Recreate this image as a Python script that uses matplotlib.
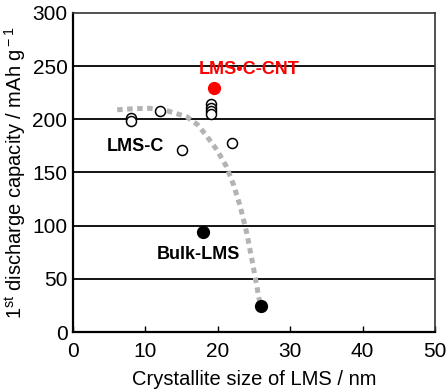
import matplotlib
matplotlib.use("Agg")
import matplotlib.pyplot as plt

plt.rcParams['font.family'] = ['Liberation Sans', 'DejaVu Sans']
plt.rcParams['mathtext.fontset'] = 'custom'
plt.rcParams['mathtext.rm'] = 'Liberation Sans'
plt.rcParams['mathtext.it'] = 'Liberation Sans:italic'

# Data
lmsc_x = [8, 8, 12, 15, 19, 19, 19, 19, 22]
lmsc_y = [201, 198, 208, 171, 214, 211, 208, 205, 178]
cnt_x = [19.5]
cnt_y = [229]
bulk_x = [18, 26]
bulk_y = [94, 24]
curve_x = [6.1, 8.5, 10.6, 13, 15.7, 17.2, 18.5, 19.9, 21.2, 22.2, 23.1, 24.0, 24.9, 25.6, 25.9]
curve_y = [209, 210, 210.4, 208, 202.5, 195, 184, 171, 155.5, 138, 118, 93, 61.4, 35, 24]

xticks = [0, 10, 20, 30, 40, 50]
yticks = [0, 50, 100, 150, 200, 250, 300]

fig = plt.figure(figsize=(4.47, 3.92), dpi=100)
ax = fig.add_axes([73/447, 1 - 332/392, (435-73)/447, (332-13)/392])

for yv in yticks[1:-1]:
    ax.axhline(yv, color='black', lw=1.3, zorder=1)

ax.plot(curve_x, curve_y, color='#b3b3b3', lw=3.6, linestyle=(0, (1.1, 0.9)),
        dash_capstyle='butt', zorder=2)

ax.plot(lmsc_x, lmsc_y, 'o', mfc='white', mec='black', mew=1.1, ms=7.2, zorder=3, linestyle='none')
ax.plot(cnt_x, cnt_y, 'o', color='#ff0000', ms=8.5, zorder=4, linestyle='none')
ax.plot(bulk_x, bulk_y, 'o', color='black', ms=8.5, zorder=4, linestyle='none')

ax.text(8.6, 174, 'LMS-C', fontsize=13, fontweight='bold', ha='center', va='center')
ax.text(17.3, 73, 'Bulk-LMS', fontsize=13, fontweight='bold', ha='center', va='center')
ax.text(24.3, 247, 'LMS\u2022C-CNT', fontsize=13, fontweight='bold', ha='center', va='center',
        color='#ff0000')

ax.set_xlim(0, 50)
ax.set_ylim(0, 300)
ax.set_xticks(xticks)
ax.set_yticks(yticks)
ax.tick_params(axis='x', direction='in', length=4, width=1, labelsize=15, pad=7)
ax.tick_params(axis='y', length=0, labelsize=15, pad=4)

for side in ['left', 'bottom']:
    ax.spines[side].set_linewidth(1.6)
for side in ['top', 'right']:
    ax.spines[side].set_linewidth(1.2)
    ax.spines[side].set_color('#333333')

ax.set_xlabel('Crystallite size of LMS / nm', fontsize=14.5, labelpad=7)
ax.set_ylabel('1$^{\\rm st}$ discharge capacity / mAh g$^{\\rm -1}$', fontsize=14.5, labelpad=3)

fig.savefig('out.png', dpi=100)
